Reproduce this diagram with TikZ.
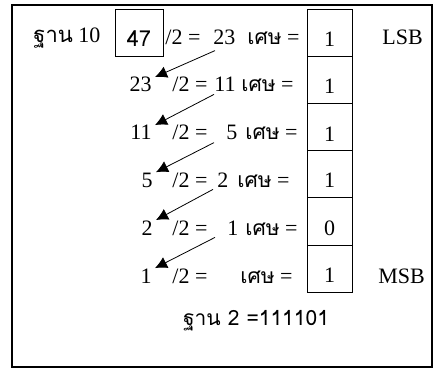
\documentclass[tikz,border=0pt]{standalone}
\usepackage{fontspec}
\setmainfont{Liberation Serif}
\newfontfamily\thai[Script=Thai]{Loma}
\newcommand{\remword}{{\thai\fontsize{10.5}{13}\selectfont เศษ}}
\usetikzlibrary{arrows.meta,positioning}

\begin{document}
\begin{tikzpicture}[
  x=0.5pt, y=-0.5pt,
  txt/.style={inner sep=0pt, font=\fontsize{11}{13}\selectfont},
  cell/.style={draw, line width=0.5pt, outer sep=0pt, inner sep=0pt, minimum width=22.5pt, minimum height=23.5pt, text height=13.5pt, text depth=0pt, font=\fontsize{11}{13}\selectfont},
  >={Latex[length=6pt,width=6pt]}
]
\useasboundingbox (0,0) rectangle (434,369);
\draw[line width=1pt] (12,5) rectangle (432,367);

\node[txt, anchor=base west] (base10) at (33,43) {{\thai ฐาน} 10};
\node[cell, minimum width=24pt, font=\thai\fontsize{11}{13}\selectfont] (d1) at (139,33.5) {47};

% remainder column
\node[cell] (r1) at (329.5,33.5) {1};
\node[cell, below=0pt of r1] (r2) {1};
\node[cell, below=0pt of r2] (r3) {1};
\node[cell, below=0pt of r3] (r4) {1};
\node[cell, below=0pt of r4] (r5) {0};
\node[cell, below=0pt of r5] (r6) {1};
\node[txt, anchor=base west] (lsb) at (382,45) {LSB};
\node[txt, anchor=base west] (msb) at (378,283) {MSB};

% row 1
\node[txt, anchor=base west] (t1) at (165,45) {/2 =};
\node[txt, anchor=base west] (q1) at (213,45) {23};
\node[txt, anchor=base east] (s1) at (300,45) {\remword{} =};
% row 2
\node[txt, anchor=base east] (d2) at (152,92) {23};
\node[txt, anchor=base west] (t2) at (172,92) {/2 =};
\node[txt, anchor=base west] (q2) at (214,92) {11};
\node[txt, anchor=base east] (s2) at (294,92) {\remword{} =};
% row 3
\node[txt, anchor=base east] (d3) at (152,140) {11};
\node[txt, anchor=base west] (t3) at (172,140) {/2 =};
\node[txt, anchor=base west] (q3) at (226,140) {5};
\node[txt, anchor=base east] (s3) at (298,140) {\remword{} =};
% row 4
\node[txt, anchor=base east] (d4) at (153,187) {5};
\node[txt, anchor=base west] (t4) at (172,187) {/2 =};
\node[txt, anchor=base west] (q4) at (217,187) {2};
\node[txt, anchor=base east] (s4) at (290,187) {\remword{} =};
% row 5
\node[txt, anchor=base east] (d5) at (153,235) {2};
\node[txt, anchor=base west] (t5) at (172,235) {/2 =};
\node[txt, anchor=base west] (q5) at (227,235) {1};
\node[txt, anchor=base east] (s5) at (298,235) {\remword{} =};
% row 6
\node[txt, anchor=base east] (d6) at (152,283) {1};
\node[txt, anchor=base west] (t6) at (172,283) {/2 =};
\node[txt, anchor=base east] (s6) at (293,283) {\remword{} =};

\node[txt, anchor=base, font=\thai\fontsize{10.5}{12}\selectfont] (base2) at (256,325) {ฐาน 2 =111101};

\draw[->] ([shift={(1pt,-2.5pt)}]q1.south west) -- ([xshift=1.5pt]d2.north east);
\draw[->] ([shift={(0pt,-1pt)}]q2.south west) -- ([xshift=1.5pt]d3.north east);
\draw[->] ([shift={(-6pt,-1pt)}]q3.south west) -- ([xshift=1.5pt]d4.north east);
\draw[->] ([shift={(-2pt,-1pt)}]q4.south west) -- ([xshift=1.5pt]d5.north east);
\draw[->] ([shift={(-6pt,-1pt)}]q5.south west) -- ([xshift=1.5pt]d6.north east);
\end{tikzpicture}
\end{document}
